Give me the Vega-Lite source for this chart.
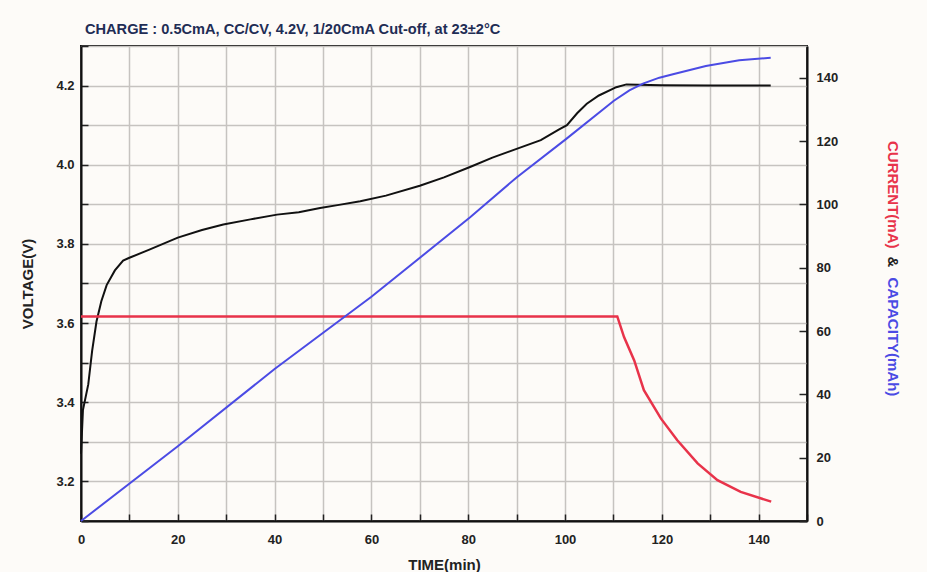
{
  "$schema": "https://vega.github.io/schema/vega-lite/v6.json",
  "width": 726,
  "height": 475,
  "autosize": "none",
  "padding": {"left": 81, "top": 46, "right": 120, "bottom": 51},
  "background": "#fdfbf8",
  "config": {
    "font": "Liberation Sans",
    "view": {"stroke": "#111111", "strokeWidth": 2, "fill": "#fdfbf8"},
    "axis": {"labelFont": "Liberation Sans", "labelFontWeight": "bold", "labelFontSize": 13, "labelColor": "#222222", "titleFont": "Liberation Sans", "titleFontWeight": "bold", "titleColor": "#222222", "titleFontSize": 15, "labelFlush": false, "labelOverlap": false, "domainColor": "#111111", "domainWidth": 2, "tickColor": "#222222", "tickWidth": 1.5, "gridColor": "#c6c3c0", "gridWidth": 1.5}
  },
  "title": {"text": "CHARGE : 0.5CmA, CC/CV, 4.2V, 1/20CmA Cut-off, at 23±2°C", "anchor": "start", "frame": "group", "dx": 4, "offset": 3, "fontSize": 14.6, "fontWeight": "bold", "color": "#1f2d55", "font": "Liberation Sans"},
  "datasets": {
    "voltage": [
      {"t": 0, "v": 3.27}, {"t": 0.4, "v": 3.38}, {"t": 1.5, "v": 3.445}, {"t": 2.3, "v": 3.53}, {"t": 3.2, "v": 3.604}, {"t": 4.2, "v": 3.655}, {"t": 5.3, "v": 3.696}, {"t": 7.0, "v": 3.733}, {"t": 8.7, "v": 3.758}, {"t": 10, "v": 3.765}, {"t": 14, "v": 3.785}, {"t": 20, "v": 3.816}, {"t": 25, "v": 3.835}, {"t": 29.4, "v": 3.849}, {"t": 35, "v": 3.862}, {"t": 40.5, "v": 3.874}, {"t": 45, "v": 3.88}, {"t": 49.4, "v": 3.891}, {"t": 53, "v": 3.898}, {"t": 57.7, "v": 3.908}, {"t": 63, "v": 3.922}, {"t": 70, "v": 3.947}, {"t": 75, "v": 3.968}, {"t": 80.5, "v": 3.995}, {"t": 85, "v": 4.018}, {"t": 90, "v": 4.04}, {"t": 95, "v": 4.062}, {"t": 98.7, "v": 4.089}, {"t": 100.4, "v": 4.1}, {"t": 102.5, "v": 4.13}, {"t": 104.5, "v": 4.154}, {"t": 107, "v": 4.175}, {"t": 110.6, "v": 4.196}, {"t": 112.7, "v": 4.203}, {"t": 120, "v": 4.201}, {"t": 130, "v": 4.2}, {"t": 142.5, "v": 4.2}
    ],
    "current": [
      {"t": 0, "i": 64.6}, {"t": 110.8, "i": 64.6}, {"t": 112.2, "i": 58.1}, {"t": 114.3, "i": 50.7}, {"t": 116.3, "i": 41.3}, {"t": 119.8, "i": 32.4}, {"t": 123.2, "i": 25.5}, {"t": 127.4, "i": 18.2}, {"t": 131.5, "i": 12.9}, {"t": 136.3, "i": 9.2}, {"t": 142.6, "i": 6.1}
    ],
    "capacity": [
      {"t": 0, "c": 0}, {"t": 20, "c": 23.6}, {"t": 40, "c": 48}, {"t": 60, "c": 70.8}, {"t": 80.4, "c": 95.9}, {"t": 90, "c": 108.5}, {"t": 100.2, "c": 120.6}, {"t": 110.1, "c": 132.7}, {"t": 113.3, "c": 136}, {"t": 116.1, "c": 138.1}, {"t": 119.5, "c": 140}, {"t": 122.3, "c": 141.1}, {"t": 129.1, "c": 143.7}, {"t": 136, "c": 145.5}, {"t": 142.5, "c": 146.3}
    ],
    "label": [{}]
  },
  "layer": [
    {
      "data": {"name": "voltage"},
      "mark": {"type": "line", "color": "#111111", "strokeWidth": 2},
      "encoding": {
        "x": {"field": "t", "type": "quantitative", "scale": {"domain": [0, 150], "nice": false},
          "axis": {"values": [0,10,20,30,40,50,60,70,80,90,100,110,120,130,140,150], "labelExpr": "datum.value % 20 === 0 ? datum.label : ''", "grid": true, "tickSize": -7, "labelPadding": 19, "title": "TIME(min)", "titlePadding": 11}},
        "y": {"field": "v", "type": "quantitative", "scale": {"domain": [3.1, 4.3], "nice": false, "zero": false},
          "axis": {"values": [3.1,3.2,3.3,3.4,3.5,3.6,3.7,3.8,3.9,4.0,4.1,4.2,4.3], "format": ".1f", "labelExpr": "round(datum.value * 10) % 2 === 0 ? datum.label : ''", "grid": true, "tickSize": -7, "labelPadding": 14, "title": "VOLTAGE(V)", "titlePadding": 20}}
      }
    },
    {
      "layer": [
        {
          "data": {"name": "current"},
          "mark": {"type": "line", "color": "#e8334a", "strokeWidth": 2.5},
          "encoding": {
            "x": {"field": "t", "type": "quantitative", "scale": {"domain": [0, 150], "nice": false}},
            "y": {"field": "i", "type": "quantitative", "scale": {"domain": [0, 150], "nice": false},
              "axis": {"orient": "right", "values": [0,10,20,30,40,50,60,70,80,90,100,110,120,130,140,150], "labelExpr": "datum.value % 20 === 0 ? datum.label : ''", "grid": false, "tickSize": -8, "labelPadding": 17, "title": null}}
          }
        },
        {
          "data": {"name": "capacity"},
          "mark": {"type": "line", "color": "#4b4be4", "strokeWidth": 2},
          "encoding": {
            "x": {"field": "t", "type": "quantitative", "scale": {"domain": [0, 150], "nice": false}},
            "y": {"field": "c", "type": "quantitative", "scale": {"domain": [0, 150], "nice": false}}
          }
        },
        {
          "data": {"name": "label"},
          "mark": {"type": "text", "angle": 90, "align": "left", "baseline": "middle", "fontSize": 15, "fontWeight": "bold", "font": "Liberation Sans", "color": "#e8334a"},
          "encoding": {
            "x": {"datum": 167.8, "type": "quantitative", "scale": {"domain": [0, 150], "nice": false}},
            "y": {"datum": 120, "type": "quantitative", "scale": {"domain": [0, 150], "nice": false}},
            "text": {"value": "CURRENT(mA)"}
          }
        },
        {
          "data": {"name": "label"},
          "mark": {"type": "text", "angle": 90, "align": "left", "baseline": "middle", "fontSize": 15, "fontWeight": "bold", "font": "Liberation Sans", "color": "#222222"},
          "encoding": {
            "x": {"datum": 167.8, "type": "quantitative", "scale": {"domain": [0, 150], "nice": false}},
            "y": {"datum": 83.5, "type": "quantitative", "scale": {"domain": [0, 150], "nice": false}},
            "text": {"value": "&"}
          }
        },
        {
          "data": {"name": "label"},
          "mark": {"type": "text", "angle": 90, "align": "left", "baseline": "middle", "fontSize": 15, "fontWeight": "bold", "font": "Liberation Sans", "color": "#4b4be4"},
          "encoding": {
            "x": {"datum": 167.8, "type": "quantitative", "scale": {"domain": [0, 150], "nice": false}},
            "y": {"datum": 76.9, "type": "quantitative", "scale": {"domain": [0, 150], "nice": false}},
            "text": {"value": "CAPACITY(mAh)"}
          }
        }
      ]
    }
  ],
  "resolve": {"scale": {"y": "independent"}}
}
